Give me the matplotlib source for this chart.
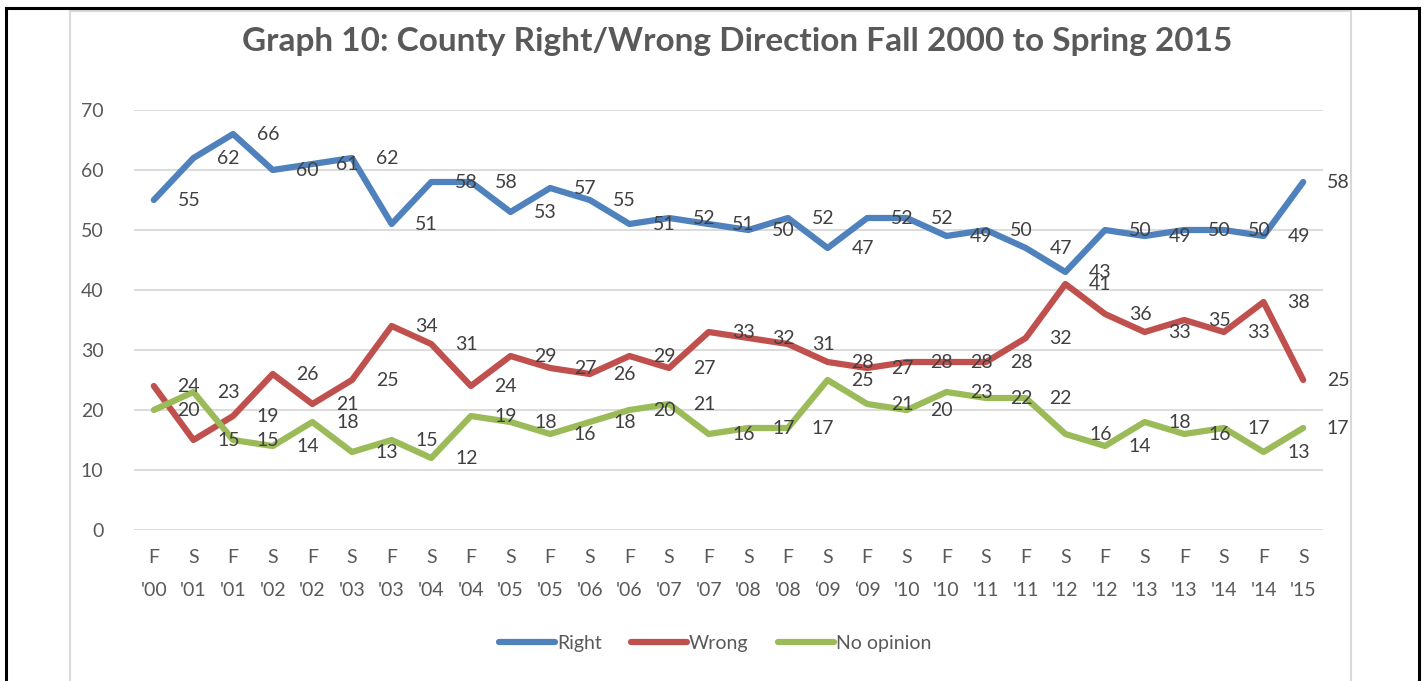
import matplotlib.pyplot as plt
from matplotlib.patches import Rectangle
from matplotlib.lines import Line2D
import numpy as np

plt.rcParams['font.family'] = ['Lato', 'DejaVu Sans']

# semesters (F = fall, S = spring) and survey results in percent
seasons = ["F", "S", "F", "S", "F", "S", "F", "S", "F", "S", "F", "S", "F", "S", "F",
           "S", "F", "S", "F", "S", "F", "S", "F", "S", "F", "S", "F", "S", "F", "S"]
years = ["'00", "'01", "'01", "'02", "'02", "'03", "'03", "'04", "'04", "'05", "'05",
         "'06", "'06", "'07", "'07", "'08", "'08", "\u201809", "\u201809", "'10", "'10",
         "'11", "'11", "'12", "'12", "'13", "'13", "'14", "'14", "'15"]

right = [55, 62, 66, 60, 61, 62, 51, 58, 58, 53, 57, 55, 51, 52, 51,
         50, 52, 47, 52, 52, 49, 50, 47, 43, 50, 49, 50, 50, 49, 58]
wrong = [24, 15, 19, 26, 21, 25, 34, 31, 24, 29, 27, 26, 29, 27, 33,
         32, 31, 28, 27, 28, 28, 28, 32, 41, 36, 33, 35, 33, 38, 25]
no_opinion = [20, 23, 15, 14, 18, 13, 15, 12, 19, 18, 16, 18, 20, 21, 16,
              17, 17, 25, 21, 20, 23, 22, 22, 16, 14, 18, 16, 17, 13, 17]

series = [("Right", right, "#4F81BD"),
          ("Wrong", wrong, "#C0504D"),
          ("No opinion", no_opinion, "#9BBB59")]

txt = "#404040"
W, H = 1422, 681
fig = plt.figure(figsize=(W / 100, H / 100), dpi=100)

# outer black frame (open at bottom) and the light chart-area border
fig.add_artist(Line2D([6 / W, 6 / W], [0, 1 - 8 / H], color="black", lw=2.2, transform=fig.transFigure))
fig.add_artist(Line2D([6 / W, 1418.5 / W], [1 - 8 / H, 1 - 8 / H], color="black", lw=2.2, transform=fig.transFigure))
fig.add_artist(Line2D([1418.5 / W, 1418.5 / W], [0, 1 - 8 / H], color="black", lw=2.2, transform=fig.transFigure))
fig.add_artist(Rectangle((70 / W, -0.05), (1351 - 70) / W, 1 - 11 / H + 0.05, fill=False,
                         edgecolor="#D9D9D9", lw=1.5, transform=fig.transFigure))

ax = fig.add_axes([134 / W, 1 - 530 / H, (1323 - 134) / W, (530 - 110) / H])
x = np.arange(len(right))

for name, vals, col in series:
    ax.plot(x, vals, color=col, lw=4.5, label=name, solid_capstyle="round", zorder=3)
    for xi, v in zip(x, vals):
        ax.annotate(str(v), (xi, v), xytext=(35, 0), textcoords="offset pixels",
                    ha="center", va="center", fontsize=14, color=txt, zorder=4)

ax.set_xlim(-0.5, len(right) - 0.5)
ax.set_ylim(0, 70)
ax.set_yticks(range(0, 71, 10))
ax.grid(axis="y", color="#D9D9D9", lw=1.3)
ax.set_axisbelow(True)
for s in ax.spines.values():
    s.set_visible(False)
ax.tick_params(length=0, labelsize=14, labelcolor="#595959")
ax.tick_params(axis="y", pad=22)
ax.tick_params(axis="x", pad=14)
ax.set_xticks(x)
ax.set_xticklabels([f"{s}\n{y}" for s, y in zip(seasons, years)], linespacing=2.1)

fig.text(737 / W, 1 - 42 / H, "Graph 10: County Right/Wrong Direction Fall 2000 to Spring 2015",
         ha="center", va="center", fontsize=24, fontweight="bold", color="#595959")

ax.legend(loc="center", bbox_to_anchor=(715 / W, 1 - 643 / H), bbox_transform=fig.transFigure,
          ncol=3, frameon=False, fontsize=14, handlelength=2.9, handletextpad=0.1,
          columnspacing=1.5, labelcolor="#595959")

fig.savefig("out.png", dpi=100)
